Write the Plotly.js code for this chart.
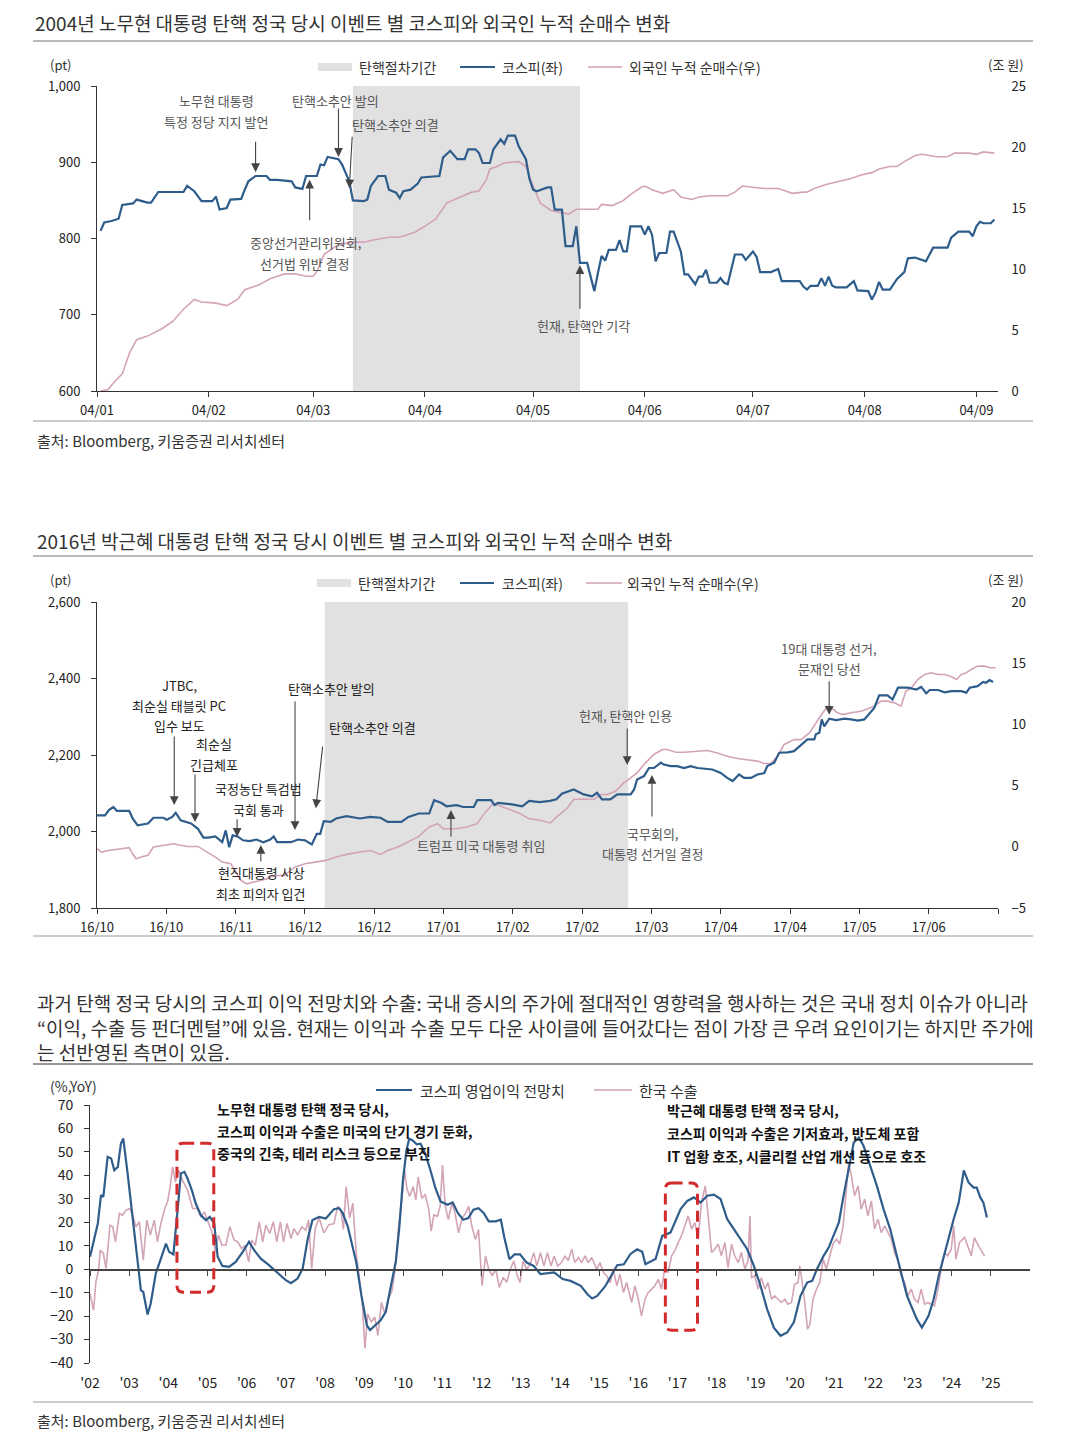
<!DOCTYPE html>
<html><head><meta charset="utf-8">
<script src="https://cdn.plot.ly/plotly-3.0.1.min.js"></script>
<style>html,body{margin:0;padding:0;background:#fff;}#chart{width:1079px;height:1439px;}</style>
</head><body><div id="chart"></div>
<script>
// ---------------- DATA ----------------
// Chart 1: 2004 (KOSPI, pt) and foreign cumulative net buying (trillion KRW)
const kospi2004 = [['01-02',810],['01-03',821],['01-05',823],['01-07',826],['01-08',844],['01-11',846],['01-12',851],['01-15',847],['01-16',847],['01-18',861],['01-25',861],['01-26',869],['01-28',862],['01-30',849],['02-02',849],['02-03',855],['02-04',838],['02-06',840],['02-07',851],['02-10',852],['02-11',864],['02-12',875],['02-14',882],['02-17',882],['02-18',877],['02-20',877],['02-24',875],['02-25',867],['02-27',865],['02-28',882],['03-02',882],['03-03',897],['03-04',896],['03-05',907],['03-08',904],['03-09',897],['03-11',875],['03-12',850],['03-15',849],['03-16',851],['03-17',869],['03-19',882],['03-21',882],['03-22',864],['03-24',860],['03-25',853],['03-26',862],['03-28',864],['03-30',872],['03-31',880],['04-05',882],['04-06',906],['04-08',915],['04-10',904],['04-12',904],['04-13',917],['04-15',917],['04-16',912],['04-17',899],['04-19',899],['04-20',917],['04-22',930],['04-23',924],['04-24',935],['04-26',935],['04-27',921],['04-29',904],['04-30',878],['05-01',864],['05-02',862],['05-05',867],['05-06',867],['05-07',838],['05-09',838],['05-10',790],['05-12',790],['05-13',816],['05-14',768],['05-16',768],['05-18',731],['05-19',755],['05-20',777],['05-21',771],['05-22',785],['05-24',785],['05-25',798],['05-26',783],['05-27',783],['05-28',816],['05-31',816],['06-01',805],['06-02',816],['06-03',805],['06-04',770],['06-05',781],['06-07',781],['06-08',809],['06-09',809],['06-11',783],['06-12',753],['06-13',753],['06-15',740],['06-16',750],['06-17',750],['06-18',759],['06-19',742],['06-21',742],['06-22',748],['06-23',742],['06-24',740],['06-26',779],['06-28',779],['06-29',772],['07-01',783],['07-02',776],['07-03',756],['07-06',756],['07-08',760],['07-09',744],['07-14',744],['07-15',737],['07-16',733],['07-17',738],['07-19',738],['07-20',748],['07-21',738],['07-22',750],['07-23',738],['07-24',736],['07-27',736],['07-29',744],['07-30',732],['08-02',731],['08-03',720],['08-04',729],['08-05',743],['08-06',733],['08-08',733],['08-10',747],['08-12',756],['08-13',774],['08-15',775],['08-18',770],['08-20',788],['08-24',788],['08-25',801],['08-27',809],['08-30',809],['08-31',803],['09-01',816],['09-02',822],['09-03',820],['09-05',820],['09-06',825]];
const foreign2004 = [['01-02',0],['01-04',0.1],['01-06',0.8],['01-08',1.4],['01-10',3.1],['01-12',4.2],['01-15',4.5],['01-19',5.1],['01-22',5.7],['01-25',6.7],['01-28',7.5],['01-30',7.3],['02-03',7.2],['02-06',7.0],['02-09',7.5],['02-11',8.3],['02-15',8.7],['02-18',9.2],['02-22',9.6],['02-25',9.6],['02-28',9.4],['03-01',9.4],['03-02',9.8],['03-04',11.2],['03-08',12.0],['03-12',12.2],['03-15',12.2],['03-18',12.4],['03-22',12.6],['03-25',12.6],['03-29',13.0],['04-01',13.5],['04-04',14.1],['04-07',15.4],['04-10',15.8],['04-14',16.3],['04-16',16.4],['04-18',17.3],['04-19',18.2],['04-21',18.4],['04-23',18.7],['04-27',18.8],['04-29',18.4],['05-01',16.8],['05-03',15.4],['05-06',14.8],['05-09',14.6],['05-11',14.5],['05-13',14.9],['05-19',14.9],['05-20',15.3],['05-23',15.2],['05-26',15.6],['05-28',16.1],['05-31',16.7],['06-01',16.8],['06-03',16.5],['06-06',16.2],['06-09',16.5],['06-11',15.9],['06-14',15.7],['06-16',15.9],['06-19',16.0],['06-24',16.0],['06-26',16.3],['06-28',16.8],['07-01',16.7],['07-04',16.6],['07-08',16.6],['07-10',16.4],['07-12',16.2],['07-15',16.3],['07-16',16.3],['07-18',16.6],['07-21',16.9],['07-25',17.2],['07-28',17.4],['07-31',17.7],['08-03',17.9],['08-05',18.2],['08-08',18.4],['08-10',18.4],['08-12',18.8],['08-15',19.3],['08-17',19.4],['08-21',19.2],['08-24',19.2],['08-26',19.5],['08-30',19.5],['09-01',19.4],['09-03',19.6],['09-06',19.5]];
const shade2004 = ['2004-03-12','2004-05-14'];
const ticks2004 = ['2004-01-01','2004-02-01','2004-03-01','2004-04-01','2004-05-01','2004-06-01','2004-07-01','2004-08-01','2004-09-01'];
const tickText2004 = ['04/01','04/02','04/03','04/04','04/05','04/06','04/07','04/08','04/09'];

// Chart 2: 2016-17 (x = trading-day index)
const kospi2016 = [[0,2042],[1.6,2042],[2.4,2056],[3.3,2064],[4,2054],[6.5,2054],[7.2,2034],[8.2,2016],[10.3,2021],[11.4,2036],[13.4,2036],[14.1,2031],[15.2,2038],[15.9,2049],[16.9,2029],[19,2021],[20.4,2007],[21.5,1984],[22.5,1984],[23.9,1987],[25.3,1972],[26,2003],[26.7,1959],[27.4,1990],[28.4,1987],[29.5,1977],[30.9,1975],[32.2,1979],[33.6,1972],[35,1979],[35.7,1987],[36.4,1972],[39.2,1972],[40.6,1979],[42,1977],[43.4,1966],[44.4,1994],[45.1,1994],[45.8,2027],[47.2,2025],[48.3,2034],[50.4,2040],[53.1,2034],[55.2,2038],[57.3,2036],[58.7,2025],[61.5,2025],[62.9,2038],[65,2047],[67.1,2047],[68.1,2082],[69.5,2075],[70.6,2066],[72.6,2069],[74,2064],[76.1,2064],[76.8,2082],[79.6,2082],[80.3,2069],[81,2075],[83.8,2071],[85.9,2066],[87.3,2080],[89.4,2077],[91.5,2080],[92.8,2084],[93.9,2099],[96.3,2110],[98.3,2097],[100,2092],[101,2101],[102,2084],[103.7,2084],[105.1,2097],[107.8,2097],[108.5,2110],[109.1,2136],[110.5,2145],[111.5,2166],[112.5,2166],[113.9,2180],[114.5,2175],[115.9,2171],[117.2,2171],[118.6,2166],[119.9,2171],[121.3,2166],[122.6,2164],[124.3,2162],[126,2153],[127.3,2140],[128.4,2132],[129.7,2149],[130.7,2140],[132.1,2140],[133.4,2149],[134.8,2153],[135.4,2171],[136.8,2180],[137.8,2206],[139.5,2207],[140.8,2210],[142.2,2227],[143.5,2241],[144.9,2241],[145.2,2254],[145.9,2258],[146.4,2293],[146.9,2275],[147.9,2295],[149.3,2291],[151,2295],[152.3,2293],[153.7,2290],[155,2293],[156.4,2315],[157,2323],[158,2356],[159.7,2356],[160.7,2345],[161.8,2376],[163.8,2376],[165.5,2371],[166.5,2378],[167.5,2361],[168.2,2370],[169.9,2370],[171.2,2364],[172.6,2367],[174.6,2367],[175.6,2363],[176.3,2376],[177.9,2380],[179,2391],[179.6,2389],[180.3,2396],[181,2391]];
const foreign2016 = [[0,-0.16],[0.9,-0.43],[2.3,-0.3],[4.4,-0.16],[6.5,-0.07],[7.2,-0.57],[7.9,-0.98],[8.9,-0.84],[10.3,-0.7],[11.4,-0.02],[13.4,0.12],[15.5,0.25],[16.9,0.12],[18.3,0.03],[20.4,0.03],[21.8,-0.3],[23.9,-0.84],[25.3,-1.25],[27,-1.39],[28.1,-2.07],[29.1,-2.75],[30.2,-3.03],[31.6,-2.89],[32.9,-2.75],[34.3,-2.62],[35.7,-2.35],[37.8,-2.35],[39.9,-1.66],[42,-1.39],[44.1,-1.25],[46.2,-1.11],[48.3,-0.84],[50.4,-0.62],[53.1,-0.43],[55.2,-0.3],[57.3,-0.62],[58.7,-0.3],[60.8,-0.02],[62.9,0.39],[65,0.85],[67.1,1.62],[68.8,1.89],[69.9,1.48],[72.6,1.48],[74.7,1.62],[76.8,1.89],[78.2,2.71],[80,3.53],[81,3.4],[82.4,3.2],[85.2,2.77],[87.3,2.3],[89.4,2.17],[91.6,1.95],[93,2.49],[95,3.17],[96.3,3.86],[98.3,3.91],[100.4,3.86],[101.7,4.27],[103.1,4.27],[104.7,4.54],[106.4,5.22],[107.8,5.63],[109.1,6.04],[110.8,6.86],[112.5,7.54],[114.2,7.95],[115.2,7.95],[116.9,7.73],[118.6,7.73],[121.3,7.81],[123.3,7.87],[125.3,7.67],[127.3,7.4],[129.4,7.21],[131.4,7.13],[133.4,7.0],[134.8,6.8],[136.1,6.8],[137.5,7.4],[138.8,8.36],[140.8,8.76],[142.2,8.76],[143.9,9.31],[145.2,10.13],[146.6,10.95],[147.6,11.49],[148.3,11.36],[149.6,10.95],[150.6,10.8],[152.3,10.95],[154.3,11.08],[155.7,11.27],[157,11.49],[158.4,11.9],[159.7,11.9],[161.1,11.76],[162.4,11.49],[163.4,12.72],[164.5,12.99],[165.8,13.67],[167.2,14.08],[168.5,14.22],[169.9,14.08],[171.2,14.08],[172.6,13.89],[173.6,13.67],[174.6,14.08],[175.6,14.22],[176.6,14.49],[177.9,14.76],[179.3,14.76],[180.3,14.63],[181.5,14.63]];
const shade2016 = [46, 107.3];
const ticks2016 = [0,14,28,42,56,70,84,98,112,126,140,154,168,182];
const tickText2016 = ['16/10','16/10','16/11','16/12','16/12','17/01','17/02','17/02','17/03','17/04','17/04','17/05','17/06',''];

// Chart 3: KOSPI operating profit forecast YoY and Korea exports YoY (x = decimal year)
const opProfit = [[2002.0,5.3],[2002.11,13],[2002.2,19.5],[2002.28,31.6],[2002.34,30.8],[2002.45,47.9],[2002.54,47.2],[2002.62,42.2],[2002.71,43.6],[2002.79,53.6],[2002.85,55.7],[2002.96,40.8],[2003.09,21.6],[2003.22,0.3],[2003.3,-9],[2003.36,-9.7],[2003.47,-19.3],[2003.55,-14.6],[2003.68,-1.8],[2003.81,4.5],[2003.94,10.9],[2004.02,7.4],[2004.13,6.3],[2004.24,25.9],[2004.32,40.8],[2004.41,41.5],[2004.49,38.7],[2004.6,33.7],[2004.7,28],[2004.83,23],[2004.96,20.9],[2005.06,22.3],[2005.17,19.5],[2005.26,5.3],[2005.38,1.4],[2005.55,1],[2005.72,3.1],[2005.9,7.4],[2006.06,11.7],[2006.19,8.1],[2006.36,4.5],[2006.57,1.7],[2006.79,-1.8],[2007.0,-4.7],[2007.13,-6],[2007.3,-4],[2007.43,0.3],[2007.56,13],[2007.68,21],[2007.85,22.3],[2008.02,21.6],[2008.23,25.6],[2008.36,26],[2008.45,24],[2008.58,18.3],[2008.71,8.5],[2008.8,2.8],[2008.93,-11.3],[2009.07,-24],[2009.15,-26],[2009.28,-24],[2009.42,-21.8],[2009.55,-18.3],[2009.68,-7],[2009.81,3.5],[2009.9,18.3],[2009.99,38],[2010.08,50.7],[2010.15,55.6],[2010.23,55],[2010.34,53.2],[2010.44,53.5],[2010.56,49.3],[2010.69,42.3],[2010.82,34.5],[2010.95,28.9],[2011.13,27.5],[2011.26,28.5],[2011.39,24],[2011.53,21.1],[2011.66,21.8],[2011.79,25.4],[2011.92,26],[2012.05,24],[2012.18,20.4],[2012.36,20.4],[2012.49,21.1],[2012.58,13.4],[2012.71,4.2],[2012.84,6.3],[2012.98,6.3],[2013.15,2.8],[2013.33,1.4],[2013.5,-2.1],[2013.68,-1.7],[2013.85,-1.4],[2014.07,-4.2],[2014.27,-5],[2014.53,-7.1],[2014.7,-10.7],[2014.82,-12.5],[2014.95,-11.4],[2015.16,-7.1],[2015.34,-2.1],[2015.46,1.7],[2015.63,2.1],[2015.8,6.5],[2015.97,8.5],[2016.1,7.4],[2016.18,2.1],[2016.44,4.3],[2016.61,14.2],[2016.82,15.6],[2017.08,25.6],[2017.25,29.1],[2017.42,30.6],[2017.59,28.4],[2017.76,31.3],[2017.93,31.8],[2018.1,29.9],[2018.27,21.3],[2018.44,17.1],[2018.61,12.8],[2018.78,8.5],[2018.95,1.4],[2019.12,-7.1],[2019.29,-17.1],[2019.46,-24.9],[2019.63,-28.4],[2019.8,-27],[2019.97,-22.7],[2020.14,-11.4],[2020.31,-5.7],[2020.44,-5],[2020.56,0],[2020.73,5.7],[2020.86,9.2],[2020.99,14.2],[2021.12,19.9],[2021.24,31.3],[2021.37,42.6],[2021.5,54],[2021.63,56.1],[2021.75,52.6],[2021.92,44.1],[2022.09,35.5],[2022.26,25.6],[2022.43,17.1],[2022.6,5.7],[2022.73,-2.8],[2022.86,-11.4],[2023.11,-21.3],[2023.24,-24.9],[2023.41,-19.9],[2023.54,-12.8],[2023.67,-2.8],[2023.84,8.5],[2024.05,21.3],[2024.18,28.4],[2024.31,42.1],[2024.43,37],[2024.56,34.8],[2024.64,34.8],[2024.73,30.6],[2024.81,28.4],[2024.9,22]];
const exportsYoY = [[2002.0,-10.4],[2002.09,-17.5],[2002.15,-5.4],[2002.22,-0.4],[2002.26,8.1],[2002.34,6.7],[2002.41,0.3],[2002.51,18.8],[2002.58,18.1],[2002.65,11.7],[2002.75,23.7],[2002.83,23],[2002.92,25.2],[2003.02,25.9],[2003.09,23],[2003.17,18.1],[2003.26,20.2],[2003.36,3.8],[2003.45,20.9],[2003.54,14.5],[2003.64,20.9],[2003.72,11.7],[2003.81,19.5],[2003.91,25.9],[2003.98,28.7],[2004.04,34.4],[2004.11,43.6],[2004.18,37.2],[2004.26,42.2],[2004.36,38],[2004.49,33.7],[2004.62,25.9],[2004.75,25.9],[2004.83,22.3],[2004.92,24.4],[2005.03,19.5],[2005.11,15.9],[2005.2,7.4],[2005.28,14.5],[2005.37,10.2],[2005.47,10.2],[2005.57,18.1],[2005.68,12.4],[2005.77,11.7],[2005.87,8.8],[2005.96,10.2],[2006.05,3.1],[2006.13,12.4],[2006.22,10.2],[2006.32,20.2],[2006.41,11.7],[2006.49,18.8],[2006.59,15.2],[2006.68,20.2],[2006.77,11.7],[2006.86,20.2],[2006.94,11.7],[2007.03,19.5],[2007.13,13.1],[2007.21,17.3],[2007.3,14.5],[2007.41,18.1],[2007.51,16.6],[2007.58,20.9],[2007.66,0.3],[2007.75,17.3],[2007.85,21.8],[2007.97,15.5],[2008.1,19],[2008.23,19.4],[2008.32,26.8],[2008.41,24.6],[2008.47,16.9],[2008.54,35.2],[2008.63,21.8],[2008.71,28.2],[2008.8,6.3],[2008.89,-5.6],[2008.95,-14.1],[2009.02,-33.8],[2009.09,-19],[2009.18,-22.5],[2009.27,-20.4],[2009.35,-28.2],[2009.44,-14.1],[2009.53,-19],[2009.62,-12.7],[2009.71,-9.2],[2009.79,0],[2009.88,18.3],[2009.97,31],[2010.03,42.3],[2010.09,34.5],[2010.16,31],[2010.25,35.2],[2010.32,29.6],[2010.38,39.4],[2010.47,30.3],[2010.56,31.7],[2010.65,25.4],[2010.71,16.2],[2010.78,23.2],[2010.87,22.5],[2010.94,26.8],[2011.0,44.4],[2011.07,26.8],[2011.15,21.1],[2011.24,28.2],[2011.32,23.9],[2011.41,15.5],[2011.5,21.8],[2011.59,23.9],[2011.67,26.8],[2011.75,18.3],[2011.84,12.7],[2011.92,16.9],[2012.01,-7],[2012.1,5.6],[2012.18,0],[2012.27,-2.8],[2012.36,0],[2012.45,-7.7],[2012.55,-3.5],[2012.64,-5.6],[2012.73,0],[2012.82,3.5],[2012.91,-2.8],[2012.98,-5.6],[2013.06,3.5],[2013.15,0],[2013.24,2.1],[2013.33,7],[2013.41,1.4],[2013.5,7],[2013.59,1.4],[2013.68,7],[2013.77,1.4],[2013.85,5.6],[2013.94,1.4],[2014.04,2.8],[2014.13,5.7],[2014.21,3.6],[2014.3,8.5],[2014.38,2.8],[2014.47,5.0],[2014.55,2.8],[2014.64,5.7],[2014.72,2.8],[2014.81,5.0],[2014.94,0],[2015.02,2.8],[2015.11,-1.4],[2015.19,-2.8],[2015.28,-5.7],[2015.36,0],[2015.45,-7.1],[2015.53,-2.1],[2015.62,-10],[2015.7,-5.7],[2015.83,-14.2],[2015.91,-7.1],[2016.0,-12.8],[2016.08,-19.9],[2016.17,-12.8],[2016.25,-10],[2016.34,-8.5],[2016.42,-7.1],[2016.51,-4.3],[2016.59,-8.5],[2016.68,0.7],[2016.76,-1.4],[2016.85,5.7],[2016.93,7.8],[2017.02,11.4],[2017.1,14.2],[2017.19,18.5],[2017.27,22.7],[2017.36,17.1],[2017.44,19.9],[2017.53,12.8],[2017.61,28.4],[2017.71,35.5],[2017.78,22.7],[2017.87,7.1],[2017.95,8.5],[2018.04,10.7],[2018.12,5.7],[2018.21,11.4],[2018.29,0.7],[2018.38,10.7],[2018.46,5.7],[2018.55,2.8],[2018.63,7.1],[2018.72,0],[2018.8,3.6],[2018.85,22.7],[2018.89,-3.6],[2018.97,-2.8],[2019.06,-8.5],[2019.14,-3.6],[2019.23,-8.5],[2019.31,-5.7],[2019.4,-12.8],[2019.48,-11.4],[2019.57,-12.8],[2019.65,-14.2],[2019.74,-12.8],[2019.82,-14.9],[2019.91,-14.2],[2019.99,-6.4],[2020.08,-5.7],[2020.12,1.4],[2020.16,-2.8],[2020.25,-14.2],[2020.32,-25.6],[2020.38,-23.5],[2020.46,-12.8],[2020.55,-8.5],[2020.63,-5.7],[2020.72,4.3],[2020.8,0],[2020.89,5.7],[2020.97,10.7],[2021.06,12.8],[2021.14,10.7],[2021.23,18.5],[2021.31,35.5],[2021.37,45.5],[2021.44,39.8],[2021.52,31.3],[2021.61,35.5],[2021.69,25.6],[2021.78,29.9],[2021.86,22.7],[2021.95,29.1],[2022.03,17.1],[2022.12,21.3],[2022.2,15.6],[2022.29,18.5],[2022.37,15.6],[2022.46,12.8],[2022.54,7.1],[2022.63,3.6],[2022.71,-2.8],[2022.8,-5.7],[2022.88,-11.4],[2022.97,-8.5],[2023.05,-12.8],[2023.14,-14.2],[2023.22,-8.5],[2023.31,-14.9],[2023.39,-14.2],[2023.48,-14.9],[2023.56,-15.6],[2023.65,-8.5],[2023.73,0],[2023.82,7.1],[2023.9,5.7],[2023.99,8.5],[2024.05,18.5],[2024.11,4.3],[2024.2,11.4],[2024.33,13.5],[2024.41,10],[2024.5,5.7],[2024.58,13.5],[2024.71,9.2],[2024.84,5.7]];
const years = [2002,2003,2004,2005,2006,2007,2008,2009,2010,2011,2012,2013,2014,2015,2016,2017,2018,2019,2020,2021,2022,2023,2024,2025];
const yearLabels = ["'02","'03","'04","'05","'06","'07","'08","'09","'10","'11","'12","'13","'14","'15","'16","'17","'18","'19","'20","'21","'22","'23","'24","'25"];
const highlight2004 = [2004.22, 2005.16, -9.8, 53.7];
const highlight2017 = [2016.69, 2017.51, -26, 36.7];

// ---------------- STYLE / LAYOUT ----------------
const W = 1079, H = 1439;
const X = p => p / W, Y = p => 1 - p / H;
const FONT = '"Noto Sans CJK KR","Noto Sans",sans-serif';
const BLUE = '#2f5d8b', PINK = '#d3a3b7', SHADE = '#e1e1e1', AX = '#333', TICK = '#222';
const dom1y = [Y(391), Y(86)], dom2y = [Y(908), Y(602)], dom3y = [Y(1363), Y(1105)];
const domx12 = [X(97), X(998)], domx3 = [X(90), X(1030)];
const y5range = [-40, 70];
const zeroPos = dom3y[0] + (0 - y5range[0]) / (y5range[1] - y5range[0]) * (dom3y[1] - dom3y[0]);

const xs = a => a.map(d => d[0]), ys = a => a.map(d => d[1]);
const line = (c, w) => ({color: c, width: w});
const traces = [
  {x: foreign2004.map(d => '2004-' + d[0]), y: ys(foreign2004), xaxis: 'x', yaxis: 'y', type: 'scatter', mode: 'lines', line: line(PINK, 1.6), name: '외국인 누적 순매수(우)'},
  {x: kospi2004.map(d => '2004-' + d[0]), y: ys(kospi2004), xaxis: 'x', yaxis: 'y2', type: 'scatter', mode: 'lines', line: line(BLUE, 2.2), name: '코스피(좌)'},
  {x: xs(foreign2016), y: ys(foreign2016), xaxis: 'x2', yaxis: 'y3', type: 'scatter', mode: 'lines', line: line(PINK, 1.6), name: '외국인 누적 순매수(우)'},
  {x: xs(kospi2016), y: ys(kospi2016), xaxis: 'x2', yaxis: 'y4', type: 'scatter', mode: 'lines', line: line(BLUE, 2.2), name: '코스피(좌)'},
  {x: xs(exportsYoY), y: ys(exportsYoY), xaxis: 'x3', yaxis: 'y5', type: 'scatter', mode: 'lines', line: line(PINK, 1.6), name: '한국 수출'},
  {x: xs(opProfit), y: ys(opProfit), xaxis: 'x4', yaxis: 'y5', type: 'scatter', mode: 'lines', line: line(BLUE, 2.2), name: '코스피 영업이익 전망치'}
];

const tf = (s) => ({family: FONT, size: s, color: TICK});
const base = {showgrid: false, zeroline: false, fixedrange: true};
const layout = {
  width: W, height: H, margin: {l: 0, r: 0, t: 0, b: 0},
  paper_bgcolor: '#fff', plot_bgcolor: 'rgba(0,0,0,0)', showlegend: false,
  font: {family: FONT, color: '#333'},
  title: {text: '2004년 노무현 대통령 탄핵 정국 당시 이벤트 별 코스피와 외국인 누적 순매수 변화', x: X(35), xanchor: 'left', y: Y(24), yanchor: 'middle', font: {family: FONT, size: 19, color: '#333'}},
  xaxis: Object.assign({}, base, {domain: domx12, anchor: 'y', type: 'date', range: ['2004-01-01', '2004-09-07'], tickmode: 'array', tickvals: ticks2004, ticktext: tickText2004, ticks: 'outside', ticklen: 5, tickcolor: AX, showline: true, linecolor: AX, linewidth: 1, tickfont: tf(13), ticklabelstandoff: 2}),
  yaxis: Object.assign({}, base, {domain: dom1y, anchor: 'x', side: 'right', range: [0, 25], tickmode: 'linear', tick0: 0, dtick: 5, ticks: 'outside', ticklen: 10, tickcolor: 'rgba(0,0,0,0)', showline: false, tickfont: tf(13)}),
  yaxis2: Object.assign({}, base, {overlaying: 'y', anchor: 'x', side: 'left', range: [600, 1000], tickmode: 'linear', tick0: 600, dtick: 100, tickformat: ',', ticks: 'outside', ticklen: 5, tickcolor: AX, showline: true, linecolor: AX, linewidth: 1, tickfont: tf(13), ticklabelstandoff: 8}),
  xaxis2: Object.assign({}, base, {domain: domx12, anchor: 'y3', range: [0, 182], tickmode: 'array', tickvals: ticks2016, ticktext: tickText2016, ticks: 'outside', ticklen: 5, tickcolor: AX, showline: true, linecolor: AX, linewidth: 1, tickfont: tf(13), ticklabelstandoff: 2}),
  yaxis3: Object.assign({}, base, {domain: dom2y, anchor: 'x2', side: 'right', range: [-5, 20], tickmode: 'linear', tick0: -5, dtick: 5, ticks: 'outside', ticklen: 10, tickcolor: 'rgba(0,0,0,0)', showline: false, tickfont: tf(13)}),
  yaxis4: Object.assign({}, base, {overlaying: 'y3', anchor: 'x2', side: 'left', range: [1800, 2600], tickmode: 'linear', tick0: 1800, dtick: 200, tickformat: ',', ticks: 'outside', ticklen: 5, tickcolor: AX, showline: true, linecolor: AX, linewidth: 1, tickfont: tf(13), ticklabelstandoff: 8}),
  xaxis3: Object.assign({}, base, {domain: domx3, anchor: 'y5', range: [2002, 2026], tickmode: 'array', tickvals: years, ticktext: yearLabels, ticks: '', showline: false, tickfont: tf(14), ticklabelstandoff: 10}),
  xaxis4: Object.assign({}, base, {overlaying: 'x3', anchor: 'free', position: zeroPos, range: [2002, 2026], tickmode: 'array', tickvals: years, showticklabels: false, ticks: 'outside', ticklen: 5, tickcolor: '#444', showline: true, linecolor: '#444', linewidth: 1.5}),
  yaxis5: Object.assign({}, base, {domain: dom3y, anchor: 'x3', range: y5range, tickmode: 'linear', tick0: -40, dtick: 10, ticks: 'outside', ticklen: 5, tickcolor: AX, showline: true, linecolor: AX, linewidth: 1, tickfont: tf(14), ticklabelstandoff: 8})
};

// shapes
const hline = (x0, x1, y, c, w) => ({type: 'line', xref: 'paper', yref: 'paper', x0: X(x0), x1: X(x1), y0: Y(y), y1: Y(y), line: {color: c, width: w}});
const roundBox = (b, xref, yref) => {
  const [x0, x1, y0, y1] = b, rx = 0.16, ry = 2.6;
  const p = `M${x0 + rx},${y1} L${x1 - rx},${y1} Q${x1},${y1} ${x1},${y1 - ry} L${x1},${y0 + ry} Q${x1},${y0} ${x1 - rx},${y0} L${x0 + rx},${y0} Q${x0},${y0} ${x0},${y0 + ry} L${x0},${y1 - ry} Q${x0},${y1} ${x0 + rx},${y1} Z`;
  return {type: 'path', xref, yref, path: p, line: {color: '#d22b2b', width: 3, dash: '11px,6px'}, fillcolor: 'rgba(0,0,0,0)'};
};
layout.shapes = [
  {type: 'rect', xref: 'x', yref: 'y domain', x0: shade2004[0], x1: shade2004[1], y0: 0, y1: 1, fillcolor: SHADE, line: {width: 0}, layer: 'below'},
  {type: 'rect', xref: 'x2', yref: 'y3 domain', x0: shade2016[0], x1: shade2016[1], y0: 0, y1: 1, fillcolor: SHADE, line: {width: 0}, layer: 'below'},
  hline(33, 1033, 41, '#777', 1), hline(33, 1033, 421, '#999', 1),
  hline(33, 1033, 556, '#777', 1), hline(33, 1033, 936, '#999', 1),
  hline(33, 1033, 1064, '#999', 2), hline(33, 1033, 1402, '#999', 1),
  // legend keys
  {type: 'rect', xref: 'paper', yref: 'paper', x0: X(318), x1: X(352), y0: Y(71), y1: Y(63), fillcolor: SHADE, line: {width: 0}},
  hline(460, 495, 67, BLUE, 2), hline(588, 622, 67, PINK, 1.6),
  {type: 'rect', xref: 'paper', yref: 'paper', x0: X(317), x1: X(351), y0: Y(587), y1: Y(579), fillcolor: SHADE, line: {width: 0}},
  hline(460, 494, 583, BLUE, 2), hline(586, 622, 583, PINK, 1.6),
  hline(376, 412, 1090, BLUE, 2), hline(594, 632, 1090, PINK, 1.6),
  roundBox(highlight2004, 'x3', 'y5'), roundBox(highlight2017, 'x3', 'y5')
];

// annotations
const T = (text, cx, cy, o = {}) => ({text, x: X(cx), y: Y(cy), xref: 'paper', yref: 'paper', showarrow: false, align: o.anchor || 'center', xanchor: o.anchor || 'center', yanchor: 'middle', font: {family: FONT, size: o.size || 13, color: o.color || '#555', weight: o.weight || 'normal'}});
const A = (xref, yref, x, y, ax, ay) => ({text: '', x, y, xref, yref, showarrow: true, ax, ay, axref: 'pixel', ayref: 'pixel', arrowhead: 2, arrowsize: 1.6, arrowwidth: 1.1, arrowcolor: '#444', standoff: 0});
const D = '#222';
const LG = {anchor: 'left', size: 14, color: '#333'};
const BL = {anchor: 'left', size: 14, color: '#111', weight: 'bold'};
const paragraph = [
  '과거 탄핵 정국 당시의 코스피 이익 전망치와 수출: 국내 증시의 주가에 절대적인 영향력을 행사하는 것은 국내 정치 이슈가 아니라',
  '“이익, 수출 등 펀더멘털”에 있음. 현재는 이익과 수출 모두 다운 사이클에 들어갔다는 점이 가장 큰 우려 요인이기는 하지만 주가에',
  '는 선반영된 측면이 있음.'
];
layout.annotations = [
  T('(pt)', 48, 64, {anchor: 'left', size: 13, color: '#333'}), T('(조 원)', 1026, 64, {anchor: 'right', size: 13, color: '#333'}),
  T('탄핵절차기간', 357, 67, LG), T('코스피(좌)', 500, 67, LG), T('외국인 누적 순매수(우)', 627, 67, LG),
  T('노무현 대통령', 216, 100), T('특정 정당 지지 발언', 216, 121), T('탄핵소추안 발의', 335, 100), T('탄핵소추안 의결', 395, 125),
  T('중앙선거관리위원회,', 305, 242), T('선거법 위반 결정', 305, 263), T('헌재, 탄핵안 기각', 583, 325),
  A('x', 'y2', '2004-02-14', 887, 0, -32), A('x', 'y2', '2004-03-08', 907, 0, -50), A('x', 'y2', '2004-03-11', 866, 3, -53),
  A('x', 'y2', '2004-02-29', 877, 0, 42), A('x', 'y2', '2004-05-14', 765, 0, 45),
  T('출처: Bloomberg, 키움증권 리서치센터', 35, 440, {anchor: 'left', size: 15, color: '#333'}),

  T('2016년 박근혜 대통령 탄핵 정국 당시 이벤트 별 코스피와 외국인 누적 순매수 변화', 35, 540, {anchor: 'left', size: 19, color: '#333'}),
  T('(pt)', 48, 579, {anchor: 'left', size: 13, color: '#333'}), T('(조 원)', 1026, 579, {anchor: 'right', size: 13, color: '#333'}),
  T('탄핵절차기간', 356, 583, LG), T('코스피(좌)', 500, 583, LG), T('외국인 누적 순매수(우)', 625, 583, LG),
  T('JTBC,', 179, 685, {color: D}), T('최순실 태블릿 PC', 179, 705, {color: D}), T('입수 보도', 179, 725, {color: D}),
  T('최순실', 214, 743, {color: D}), T('긴급체포', 214, 764, {color: D}),
  T('국정농단 특검법', 258, 789, {color: D}), T('국회 통과', 258, 810, {color: D}),
  T('탄핵소추안 발의', 331, 688, {color: D}), T('탄핵소추안 의결', 372, 727, {color: D}),
  T('현직대통령 사상', 261, 873, {color: D}), T('최초 피의자 입건', 261, 894, {color: D}),
  T('트럼프 미국 대통령 취임', 481, 846), T('헌재, 탄핵안 인용', 625, 715),
  T('국무회의,', 652, 833), T('대통령 선거일 결정', 653, 853),
  T('19대 대통령 선거,', 829, 648), T('문재인 당선', 829, 668),
  A('x2', 'y4', 15.6, 2069, 0, -70), A('x2', 'y4', 19.8, 2025, 0, -49), A('x2', 'y4', 28.3, 1986, 0, -19),
  A('x2', 'y4', 40.0, 2004, 0, -130), A('x2', 'y4', 44.2, 2061, 7, -63), A('x2', 'y4', 33.1, 1965, 0, 18),
  A('x2', 'y4', 71.5, 2056, 0, 28), A('x2', 'y4', 107.1, 2174, 0, -38), A('x2', 'y4', 112.1, 2148, 0, 43),
  A('x2', 'y4', 147.9, 2305, 0, -35),

  T(paragraph.join('<br>'), 35, 1027, {anchor: 'left', size: 19, color: '#333'}),
  T('(%,YoY)', 48, 1086, {anchor: 'left', size: 14, color: '#333'}),
  T('코스피 영업이익 전망치', 418, 1090, {anchor: 'left', size: 15, color: '#333'}), T('한국 수출', 637, 1090, {anchor: 'left', size: 15, color: '#333'}),
  T('노무현 대통령 탄핵 정국 당시,', 215, 1109, BL),
  T('코스피 이익과 수출은 미국의 단기 경기 둔화,', 215, 1131, BL),
  T('중국의 긴축, 테러 리스크 등으로 부진', 215, 1153, BL),
  T('박근혜 대통령 탄핵 정국 당시,', 665, 1110, BL),
  T('코스피 이익과 수출은 기저효과, 반도체 포함', 665, 1133, BL),
  T('IT 업황 호조, 시클리컬 산업 개선 등으로 호조', 665, 1156, BL),
  T('출처: Bloomberg, 키움증권 리서치센터', 35, 1420, {anchor: 'left', size: 15, color: '#333'})
];

Plotly.newPlot('chart', traces, layout, {displayModeBar: false, staticPlot: true});
</script>
</body></html>
